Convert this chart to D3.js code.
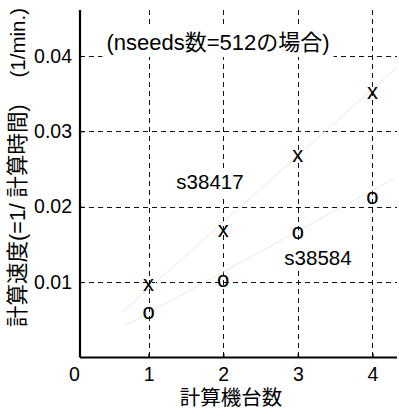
<!DOCTYPE html>
<html><head><meta charset="utf-8">
<script src="https://cdn.jsdelivr.net/npm/d3@7"></script>
<style>
body{margin:0;background:#fff;}
text{font-family:"Liberation Sans",Arial,"Noto Sans CJK JP",sans-serif;fill:#000;}
</style></head>
<body><svg id="c" width="399" height="411"></svg>
<script>
const machines = [1, 2, 3, 4];
const s38417 = [0.0096, 0.0168, 0.0267, 0.0351];
const s38584 = [0.0059, 0.0101, 0.0165, 0.0212];
const fit38417 = [[0.643, 0.0060], [4.32, 0.0384]];
const fit38584 = [[0.683, 0.0042], [4.30, 0.0238]];
const xTicks = [0, 1, 2, 3, 4];
const yTicks = [0.01, 0.02, 0.03, 0.04];
const xDomain = [0.08, 4.33];
const yDomain = [0, 0.0461];

const svg = d3.select("#c");
const x = d3.scaleLinear().domain(xDomain).range([80, 397]);
const y = d3.scaleLinear().domain(yDomain).range([357.5, 10]);

// grid
const grid = svg.append("g").attr("stroke", "#111").attr("stroke-width", 1).attr("stroke-dasharray", "5,4");
grid.selectAll("line.v").data(machines).join("line")
  .attr("x1", d => Math.round(x(d)) + 0.5).attr("x2", d => Math.round(x(d)) + 0.5)
  .attr("y1", y.range()[1]).attr("y2", y.range()[0]);
grid.selectAll("line.h").data(yTicks).join("line")
  .attr("x1", x.range()[0]).attr("x2", x.range()[1])
  .attr("y1", d => Math.round(y(d)) + 0.5).attr("y2", d => Math.round(y(d)) + 0.5);

// fit lines
const line = d3.line().x(d => x(d[0])).y(d => y(d[1]));
[fit38417, fit38584].forEach(f => {
  svg.append("path").attr("d", line(f)).attr("fill", "none").attr("stroke", "#e8e8e8").attr("stroke-width", 1);
});

// axes
const xAxis = d3.axisBottom(x).tickValues(xTicks).tickSize(-4).tickPadding(10).tickFormat(d3.format("d"));
const gx = svg.append("g").attr("transform", `translate(0,${y(0)})`).call(xAxis);
gx.select(".domain").attr("stroke-width", 2.2).attr("d", `M${x.range()[0]},0H${x.range()[1]}`);
gx.selectAll(".tick").filter(d => d === 0).select("line").remove();
gx.selectAll("text").attr("font-size", 19.5).attr("font-family", null);
gx.selectAll(".tick line").attr("stroke-width", 1.5);

const yAxis = d3.axisLeft(y).tickValues(yTicks).tickSize(-4).tickPadding(8).tickFormat(d3.format(".2f"));
const gy = svg.append("g").attr("transform", `translate(${x(xDomain[0])},0)`).call(yAxis);
gy.select(".domain").attr("stroke-width", 2.2).attr("d", `M0,${y.range()[1]}V${y.range()[0]}`);
gy.selectAll("text").attr("font-size", 19.5).attr("font-family", null);

// labels with white backgrounds
function boxed(txt, cx, baseline, size) {
  const g = svg.append("g");
  const t = g.append("text").attr("x", cx).attr("y", baseline).attr("text-anchor", "middle")
    .attr("font-size", size).text(txt);
  const b = t.node().getBBox();
  g.insert("rect", "text").attr("x", b.x - 4).attr("y", b.y - 2).attr("width", b.width + 8).attr("height", b.height + 4).attr("fill", "#fff");
}
boxed("(nseeds数=512の場合)", 218, 50, 22);
boxed("s38417", 210, 189, 20.5);
boxed("s38584", 318, 265, 20.5);

// markers (text glyphs)
svg.append("g").selectAll("text").data(machines).join("text")
  .attr("x", d => x(d)).attr("y", (d, i) => y(s38417[i])).attr("dy", "0.27em")
  .attr("text-anchor", "middle").attr("font-size", 22).text("x");
svg.append("g").selectAll("text").data(machines).join("text")
  .attr("x", d => x(d)).attr("y", (d, i) => y(s38584[i])).attr("dy", "0.27em")
  .attr("text-anchor", "middle").attr("font-size", 22).text("o");

// axis titles
svg.append("text").attr("x", 231).attr("y", 405).attr("text-anchor", "middle").attr("font-size", 20.5).text("計算機台数");
svg.append("text").attr("transform", "translate(25,327) rotate(-90)").attr("text-anchor", "start")
  .attr("font-size", 21.5).text("計算速度(=1/ 計算時間)");
svg.append("text").attr("transform", "translate(25,8) rotate(-90)").attr("text-anchor", "end")
  .attr("font-size", 20.5).text("(1/min.)");
</script></body></html>
